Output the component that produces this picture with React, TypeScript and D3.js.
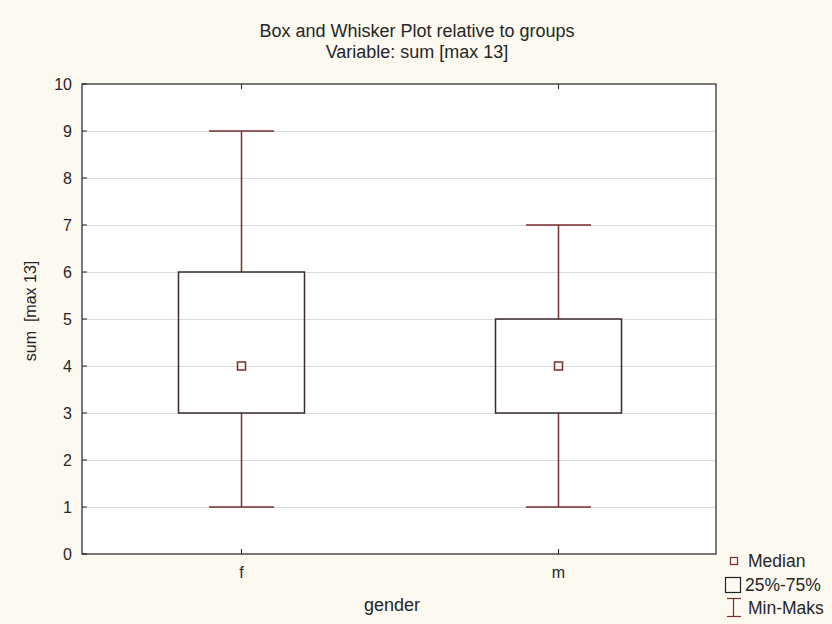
import React, { useEffect, useRef } from 'react';
import * as d3 from 'd3';

const groups = ['f', 'm'];
const mins = [1, 1];
const lowerQuartiles = [3, 3];
const medians = [4, 4];
const upperQuartiles = [6, 5];
const maxs = [9, 7];
const yTicks = [0, 1, 2, 3, 4, 5, 6, 7, 8, 9, 10];

const App: React.FC = () => {
  const ref = useRef<SVGSVGElement | null>(null);

  useEffect(() => {
    if (!ref.current) return;
    const svg = d3.select(ref.current);
    svg.selectAll('*').remove();

    const width = 832;
    const height = 624;
    const plot = { left: 82, right: 716, top: 84, bottom: 554 };
    const font = '"Liberation Sans", Arial, sans-serif';
    const whiskerColor = '#7d2b2b';
    const boxColor = '#3a2a2a';
    const textColor = '#262626';

    svg.append('rect').attr('width', width).attr('height', height).attr('fill', '#fcf9f0');

    const x = d3.scalePoint<string>().domain(groups).range([plot.left, plot.right]).padding(0.5);
    const y = d3.scaleLinear().domain([0, 10]).range([plot.bottom, plot.top]);

    svg
      .append('rect')
      .attr('x', plot.left)
      .attr('y', plot.top)
      .attr('width', plot.right - plot.left)
      .attr('height', plot.bottom - plot.top)
      .attr('fill', '#ffffff');

    // grid lines
    svg
      .selectAll('.y-grid')
      .data(yTicks.slice(1, -1))
      .enter()
      .append('line')
      .attr('x1', plot.left)
      .attr('x2', plot.right)
      .attr('y1', (d) => y(d) + 0.5)
      .attr('y2', (d) => y(d) + 0.5)
      .attr('stroke', '#dcdcdc')
      .attr('stroke-width', 1);

    const boxW = 126;
    const capW = 65;

    groups.forEach((g, i) => {
      const cx = Math.round(x(g) as number) + 0.5;
      const grp = svg.append('g');
      // whiskers
      grp
        .append('line')
        .attr('x1', cx)
        .attr('x2', cx)
        .attr('y1', y(maxs[i]))
        .attr('y2', y(upperQuartiles[i]))
        .attr('stroke', whiskerColor)
        .attr('stroke-width', 1.5);
      grp
        .append('line')
        .attr('x1', cx)
        .attr('x2', cx)
        .attr('y1', y(lowerQuartiles[i]))
        .attr('y2', y(mins[i]))
        .attr('stroke', whiskerColor)
        .attr('stroke-width', 1.5);
      [maxs[i], mins[i]].forEach((v) => {
        grp
          .append('line')
          .attr('x1', cx - capW / 2)
          .attr('x2', cx + capW / 2)
          .attr('y1', y(v))
          .attr('y2', y(v))
          .attr('stroke', whiskerColor)
          .attr('stroke-width', 1.5);
      });
      // box
      grp
        .append('rect')
        .attr('x', cx - boxW / 2)
        .attr('y', y(upperQuartiles[i]))
        .attr('width', boxW)
        .attr('height', y(lowerQuartiles[i]) - y(upperQuartiles[i]))
        .attr('fill', 'none')
        .attr('stroke', boxColor)
        .attr('stroke-width', 1.5);
      // median
      grp
        .append('rect')
        .attr('x', cx - 4)
        .attr('y', y(medians[i]) - 4)
        .attr('width', 8)
        .attr('height', 8)
        .attr('fill', 'none')
        .attr('stroke', whiskerColor)
        .attr('stroke-width', 1.5);
    });

    // frame
    svg
      .append('rect')
      .attr('x', plot.left)
      .attr('y', plot.top)
      .attr('width', plot.right - plot.left)
      .attr('height', plot.bottom - plot.top)
      .attr('fill', 'none')
      .attr('stroke', '#222')
      .attr('stroke-width', 1.2);

    // y ticks (inward) and labels
    svg
      .selectAll('.y-tick')
      .data(yTicks)
      .enter()
      .append('line')
      .attr('x1', plot.left)
      .attr('x2', plot.left + 5)
      .attr('y1', (d) => y(d))
      .attr('y2', (d) => y(d))
      .attr('stroke', '#222');
    svg
      .selectAll('.y-label')
      .data(yTicks)
      .enter()
      .append('text')
      .attr('x', plot.left - 10)
      .attr('y', (d) => y(d))
      .attr('dy', '0.35em')
      .attr('text-anchor', 'end')
      .attr('font-family', font)
      .attr('font-size', 16)
      .attr('fill', textColor)
      .text((d) => d);

    // x ticks on top and bottom
    groups.forEach((g) => {
      const cx = Math.round(x(g) as number) + 0.5;
      svg.append('line').attr('x1', cx).attr('x2', cx).attr('y1', plot.bottom).attr('y2', plot.bottom - 5).attr('stroke', '#222');
      svg.append('line').attr('x1', cx).attr('x2', cx).attr('y1', plot.top).attr('y2', plot.top + 5).attr('stroke', '#222');
      svg
        .append('text')
        .attr('x', cx)
        .attr('y', plot.bottom + 24)
        .attr('text-anchor', 'middle')
        .attr('font-family', font)
        .attr('font-size', 16)
        .attr('fill', textColor)
        .text(g);
    });

    // titles
    svg
      .append('text')
      .attr('x', 417)
      .attr('y', 37)
      .attr('text-anchor', 'middle')
      .attr('font-family', font)
      .attr('font-size', 18)
      .attr('fill', textColor)
      .text('Box and Whisker Plot relative to groups');
    svg
      .append('text')
      .attr('x', 417)
      .attr('y', 58)
      .attr('text-anchor', 'middle')
      .attr('font-family', font)
      .attr('font-size', 18)
      .attr('fill', textColor)
      .text('Variable: sum [max 13]');

    // axis titles
    svg
      .append('text')
      .attr('x', 392)
      .attr('y', 611)
      .attr('text-anchor', 'middle')
      .attr('font-family', font)
      .attr('font-size', 18)
      .attr('fill', textColor)
      .text('gender');
    svg
      .append('text')
      .attr('transform', `translate(36, 311) rotate(-90)`)
      .attr('text-anchor', 'middle')
      .attr('font-family', font)
      .attr('font-size', 16)
      .attr('fill', textColor)
      .attr('xml:space', 'preserve')
      .text('sum  [max 13]');

    // legend
    const lg = svg.append('g').attr('font-family', font).attr('font-size', 17.5).attr('fill', textColor);
    lg.append('rect').attr('x', 730.5).attr('y', 557.5).attr('width', 7).attr('height', 7).attr('fill', 'none').attr('stroke', whiskerColor).attr('stroke-width', 1.2);
    lg.append('text').attr('x', 748).attr('y', 561).attr('dy', '0.35em').text('Median');
    lg.append('rect').attr('x', 725.5).attr('y', 577.5).attr('width', 15).attr('height', 15).attr('fill', 'none').attr('stroke', '#222').attr('stroke-width', 1.2);
    lg.append('text').attr('x', 745).attr('y', 585).attr('dy', '0.35em').text('25%-75%');
    lg.append('line').attr('x1', 733.5).attr('x2', 733.5).attr('y1', 598).attr('y2', 617).attr('stroke', whiskerColor).attr('stroke-width', 1.2);
    lg.append('line').attr('x1', 727).attr('x2', 741).attr('y1', 598.5).attr('y2', 598.5).attr('stroke', whiskerColor).attr('stroke-width', 1.2);
    lg.append('line').attr('x1', 727).attr('x2', 741).attr('y1', 616.5).attr('y2', 616.5).attr('stroke', whiskerColor).attr('stroke-width', 1.2);
    lg.append('text').attr('x', 748).attr('y', 608).attr('dy', '0.35em').text('Min-Maks');
  }, []);

  return (
    <svg
      ref={ref}
      width={832}
      height={624}
      style={{ position: 'absolute', left: 0, top: 0, display: 'block' }}
    />
  );
};

export default App;
